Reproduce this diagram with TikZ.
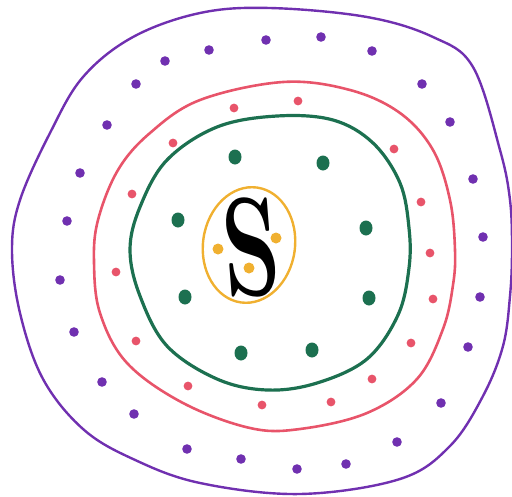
\documentclass[tikz,border=0pt]{standalone}
\begin{document}
\begin{tikzpicture}[x=1pt,y=-1pt,
  ring/.style={line width=#1, line join=round},
  pdot/.style={fill=ringpurple},
  rdot/.style={fill=ringred},
  gdot/.style={fill=ringgreen},
  odot/.style={fill=ringorange}]
\definecolor{ringpurple}{RGB}{112,48,176}
\definecolor{ringred}{RGB}{232,84,106}
\definecolor{ringgreen}{RGB}{28,112,80}
\definecolor{ringorange}{RGB}{240,176,48}
\useasboundingbox (0,0) rectangle (512,496);
% outer purple ring
\draw[ring=2.4pt, ringpurple] plot[smooth cycle, tension=0.6] coordinates {
 (270,8) (367,17) (433,37) (473,67) (500,150) (510,200) (512,250) (510,296) (503,346)
 (483,396) (450,446) (400,479) (300,494) (200,483) (133,459) (83,429) (43,379) (20,313)
 (12,250) (20,200) (50,133) (83,77) (133,37) (200,13)};
% red ring
\draw[ring=2.6pt, ringred] plot[smooth cycle, tension=0.6] coordinates {
 (283,82) (350,90) (400,113) (433,150) (450,200) (455,250) (453,285) (443,329) (417,379)
 (367,413) (300,429) (250,428) (183,403) (127,363) (100,313) (94,262) (98,220)
 (118,170) (150,133) (200,100)};
% green ring
\draw[ring=3.2pt, ringgreen] plot[smooth cycle, tension=0.6] coordinates {
 (277,116) (333,120) (373,143) (400,183) (409,228) (409,268) (398,315) (367,359) (317,383)
 (267,390) (217,379) (167,346) (140,296) (130,250) (140,207) (167,160) (217,127)};
% orange ellipse
\draw[ring=2.4pt, ringorange, rotate around={-8:(249,245)}] (249,245) ellipse [x radius=46, y radius=58];
% purple dots
\foreach \p in {(266,40),(321,37),(372,51),(209,50),(165,61),(136,84),(422,84),(107,125),
 (450,122),(80,173),(473,179),(67,221),(483,237),(60,280),(74,332),(102,382),(134,414),
 (187,449),(241,459),(297,469),(346,464),(397,442),(441,403),(468,347),(480,297)}
  \fill[pdot] \p circle [radius=4.8];
% red dots
\foreach \p in {(234,108),(298,101),(173,143),(394,149),(132,194),(421,202),(430,253),
 (116,272),(433,299),(136,341),(411,343),(188,386),(372,379),(262,405),(331,402)}
  \fill[rdot] \p circle [radius=4.4];
% green dots
\foreach \p in {(235,157),(323,163),(178,220),(366,228),(185,297),(369,298),(241,353),(312,350)}
  \fill[gdot] \p ellipse [x radius=6.5, y radius=7.5];
% orange dots
\foreach \p in {(218,249),(276,238),(249,268)}
  \fill[odot] \p circle [radius=5.5];
% the S
\node[xscale=0.65, xslant=-0.12] (s) at (251,247) {\fontsize{140}{140}\selectfont\bfseries S};
\end{tikzpicture}
\end{document}
